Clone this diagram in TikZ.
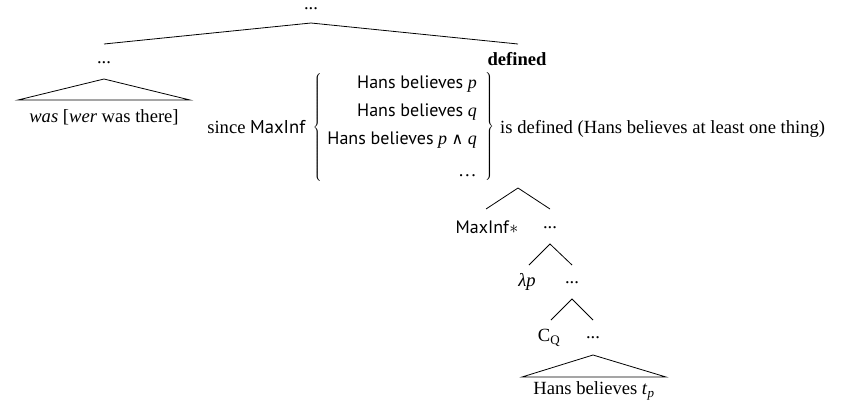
\documentclass[tikz,border=0pt]{standalone}
\usepackage{fix-cm}
\usepackage{fontspec}
\setmainfont{Liberation Serif}
\setsansfont{PT Sans}
\newfontfamily\symfont{DejaVu Serif}
\begin{document}
\begin{tikzpicture}[x=1pt,y=-1pt,
  lbl/.style={inner sep=0pt, font=\fontsize{18.6}{22}\selectfont},
  sflbl/.style={inner sep=0pt, font=\fontsize{18}{22}\selectfont},
  edge/.style={line width=0.8pt}]
\useasboundingbox (0,0) rectangle (848,408);
% top level
\node[lbl] (top) at (311,9) {...};
\coordinate (topA) at (311,23);
\coordinate (topL) at (104,44);
\coordinate (topR) at (518,44);
\draw[edge] (topL) -- (topA) -- (topR);
% left subtree
\node[lbl] (ldots) at (104,63) {...};
\coordinate (lA) at (104,79);
\coordinate (lL) at (18,100);
\coordinate (lR) at (190,100);
\draw[edge] (lL) -- (lA) -- (lR) -- cycle;
\node[lbl, anchor=base] (was) at (104,122) {\textit{was} [\textit{wer} was there]};
% right: defined
\node[lbl, anchor=base] (defined) at (517,65) {\textbf{defined}};
\node[lbl, anchor=base east] (since) at (306,133) {since \textsf{MaxInf}};
\node[sflbl, anchor=base east] (r1) at (477,88) {\textsf{Hans believes} \textit{p}};
\node[sflbl, anchor=base east] (r2) at (477,116) {\textsf{Hans believes} \textit{q}};
\node[sflbl, anchor=base east] (r3) at (477,144) {\textsf{Hans believes} \textit{p} {\symfont\fontsize{16}{18}\selectfont ∧} \textit{q}};
\node[lbl, anchor=base east] (r4) at (477,176) {…};
\node[lbl] (lbrace) at (318,128) {$\left\{\vrule height 50pt depth 50pt width 0pt\right.$};
\node[lbl] (rbrace) at (489,127) {$\left.\vrule height 50pt depth 50pt width 0pt\right\}$};
\node[lbl, anchor=base west] (isdef) at (500,133) {is defined (Hans believes at least one thing)};
% lower tree
\coordinate (a1) at (518,188);
\coordinate (a1L) at (486,209);
\coordinate (a1R) at (550,209);
\draw[edge] (a1L) -- (a1) -- (a1R);
\node[sflbl] (maxinf) at (487,227) {\textsf{MaxInf}$*$};
\node[lbl] (d1) at (550,228) {...};
\coordinate (a2) at (550,244);
\coordinate (a2L) at (529,265);
\coordinate (a2R) at (572,265);
\draw[edge] (a2L) -- (a2) -- (a2R);
\node[lbl] (lam) at (527,282) {\textit{λp}};
\node[lbl] (d2) at (572,283) {...};
\coordinate (a3) at (572,299);
\coordinate (a3L) at (551,320);
\coordinate (a3R) at (593,320);
\draw[edge] (a3L) -- (a3) -- (a3R);
\node[lbl] (cq) at (549,338) {C\textsubscript{Q}};
\node[lbl] (d3) at (593,338) {...};
\coordinate (a4) at (593,355);
\coordinate (a4L) at (522,377);
\coordinate (a4R) at (666,377);
\draw[edge] (a4L) -- (a4) -- (a4R) -- cycle;
\node[lbl] (hbt) at (594,391) {Hans believes \textit{t}\textsubscript{\textit{p}}};
\end{tikzpicture}
\end{document}
